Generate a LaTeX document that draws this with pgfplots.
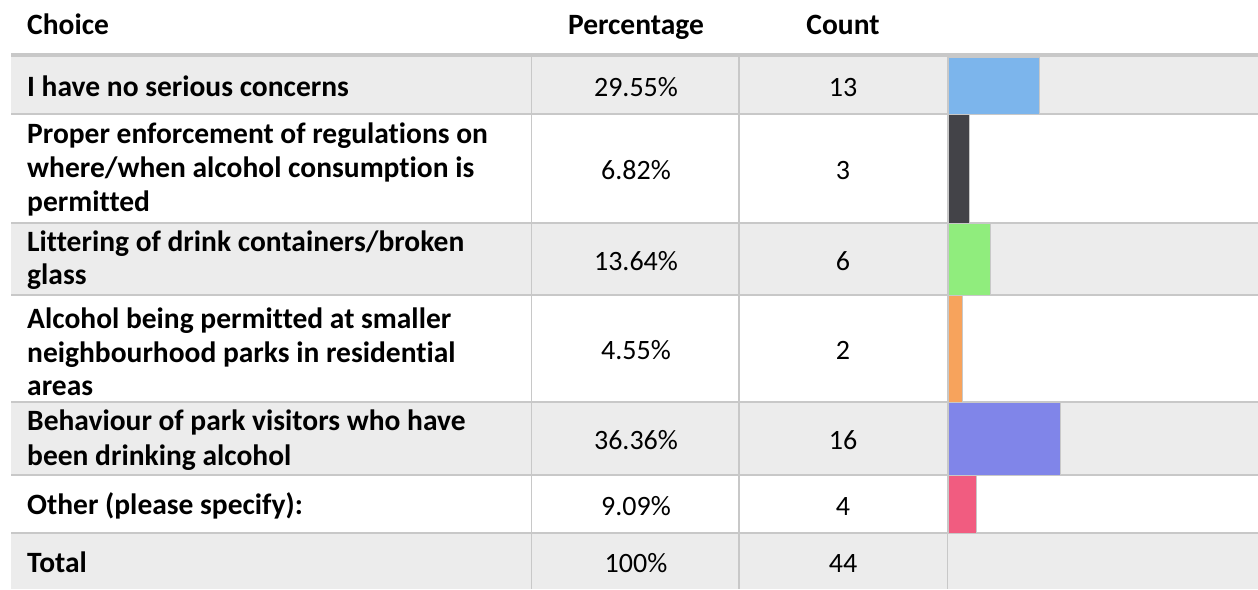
\documentclass[border=0pt]{standalone}
\usepackage{pgfplots}
\pgfplotsset{compat=1.18}
\usepackage{fontspec}
\setmainfont{Carlito}[Ligatures=NoCommon]
\definecolor{rowgray}{HTML}{ECECEC}
\definecolor{linegray}{HTML}{C8C8C8}
\definecolor{cA}{HTML}{7CB5EC}
\definecolor{cB}{HTML}{434348}
\definecolor{cC}{HTML}{90ED7D}
\definecolor{cD}{HTML}{F7A35C}
\definecolor{cE}{HTML}{8085E9}
\definecolor{cF}{HTML}{F15C80}
\newcommand{\bfs}{\fontsize{29.5}{34}\selectfont\bfseries}
\newcommand{\ch}[2]{\node[anchor=base west,inner sep=0pt,font=\bfs] at (27,#1) {#2};}
\newcommand{\pc}[2]{\node[anchor=base,inner sep=0pt] at (636,#1) {#2};}
\newcommand{\ct}[2]{\node[anchor=base,inner sep=0pt] at (843,#1) {#2};}
\begin{document}
\fontsize{28}{34}\selectfont
\begin{tikzpicture}
\useasboundingbox (0pt,0pt) rectangle (1258pt,589pt);
\begin{scope}[x=1pt,y=-1pt,yshift=589pt]
% row backgrounds
\fill[rowgray] (11,57) rectangle (1258,114);
\fill[rowgray] (11,223) rectangle (1258,295);
\fill[rowgray] (11,402) rectangle (1258,475);
\fill[rowgray] (11,533) rectangle (1258,589);
% header rule
\fill[linegray] (11,53) rectangle (1258,57);
% row rules
\foreach \yy in {114,223,295,402,475,533}
  \draw[linegray,line width=1.2pt] (11,\yy) -- (1258,\yy);
% column rules
\foreach \xx in {531.5,739,947.5}
  \draw[linegray,line width=1.2pt] (\xx,57) -- (\xx,589);
\end{scope}
% bars
\begin{axis}[at={(948pt,589pt)}, anchor=north west, scale only axis,
  width=308pt, height=589pt, xmin=0, xmax=100, ymin=0, ymax=589,
  y dir=reverse, axis lines=none, xtick=\empty, ytick=\empty,
  xbar, bar shift=0pt, clip=false]
\addplot[fill=cA, draw=linegray, line width=1pt, bar width=57] coordinates {(29.55,85.5)};
\addplot[fill=cB, draw=linegray, line width=1pt, bar width=109] coordinates {(6.82,168.5)};
\addplot[fill=cC, draw=linegray, line width=1pt, bar width=72] coordinates {(13.64,259)};
\addplot[fill=cD, draw=linegray, line width=1pt, bar width=107] coordinates {(4.55,348.5)};
\addplot[fill=cE, draw=linegray, line width=1pt, bar width=73] coordinates {(36.36,438.5)};
\addplot[fill=cF, draw=linegray, line width=1pt, bar width=58] coordinates {(9.09,504)};
\end{axis}
\begin{scope}[x=1pt,y=-1pt,yshift=587pt]
% header
\ch{33}{Choice}
\node[anchor=base,inner sep=0pt,font=\bfs] at (636,33) {Percentage};
\node[anchor=base,inner sep=0pt,font=\bfs] at (843,33) {Count};
% choices
\ch{94.5}{I have no serious concerns}
\ch{142}{Proper enforcement of regulations on}
\ch{176}{where/when alcohol consumption is}
\ch{210}{permitted}
\ch{250}{Littering of drink containers/broken}
\ch{283}{glass}
\ch{327}{Alcohol being permitted at smaller}
\ch{361}{neighbourhood parks in residential}
\ch{394}{areas}
\ch{429}{Behaviour of park visitors who have}
\ch{464}{been drinking alcohol}
\ch{513}{Other (please specify):}
\ch{571}{Total}
% percentages
\pc{95}{29.55\%}
\pc{178}{6.82\%}
\pc{269}{13.64\%}
\pc{358}{4.55\%}
\pc{448}{36.36\%}
\pc{514}{9.09\%}
\pc{571}{100\%}
% counts
\ct{95}{13}
\ct{178}{3}
\ct{269}{6}
\ct{358}{2}
\ct{448}{16}
\ct{514}{4}
\ct{571}{44}
\end{scope}
\end{tikzpicture}
\end{document}
